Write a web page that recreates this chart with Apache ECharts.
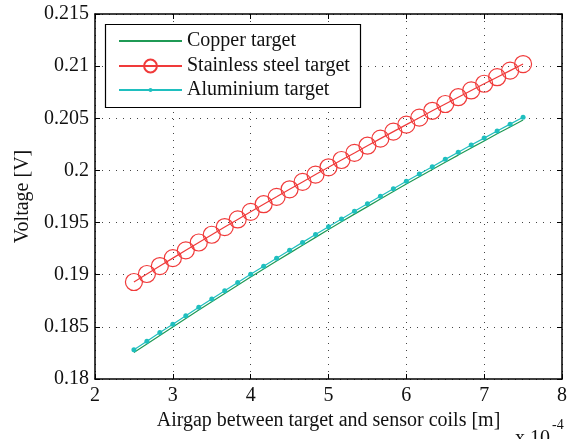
<!DOCTYPE html>
<html>
<head>
<meta charset="utf-8">
<script src="https://cdn.jsdelivr.net/npm/echarts@6/dist/echarts.min.js"></script>
<style>html,body{margin:0;padding:0;background:#fff;}#c{width:572px;height:439px;}</style>
</head>
<body>
<div id="c"></div>
<script>
// Airgap (x 10^-4 m)
const airgap = [2.5, 2.6667, 2.8333, 3.0, 3.1667, 3.3333, 3.5, 3.6667, 3.8333, 4.0, 4.1667, 4.3333, 4.5, 4.6667, 4.8333, 5.0, 5.1667, 5.3333, 5.5, 5.6667, 5.8333, 6.0, 6.1667, 6.3333, 6.5, 6.6667, 6.8333, 7.0, 7.1667, 7.3333, 7.5];
const copper = [0.18253, 0.18336, 0.18418, 0.18499, 0.18580, 0.18661, 0.18741, 0.18820, 0.18899, 0.18977, 0.19054, 0.19131, 0.19207, 0.19283, 0.19358, 0.19433, 0.19507, 0.19581, 0.19653, 0.19726, 0.19798, 0.19869, 0.19939, 0.20009, 0.20079, 0.20147, 0.20216, 0.20283, 0.20351, 0.20417, 0.20483];
const stainless = [0.18930, 0.19007, 0.19083, 0.19159, 0.19234, 0.19309, 0.19383, 0.19457, 0.19530, 0.19603, 0.19676, 0.19747, 0.19819, 0.19890, 0.19960, 0.20030, 0.20100, 0.20168, 0.20237, 0.20305, 0.20372, 0.20439, 0.20506, 0.20572, 0.20637, 0.20702, 0.20767, 0.20831, 0.20894, 0.20957, 0.21020];
const aluminium = [0.18280, 0.18363, 0.18445, 0.18526, 0.18607, 0.18688, 0.18768, 0.18847, 0.18926, 0.19004, 0.19081, 0.19158, 0.19234, 0.19310, 0.19385, 0.19460, 0.19534, 0.19608, 0.19680, 0.19753, 0.19825, 0.19896, 0.19966, 0.20036, 0.20106, 0.20174, 0.20243, 0.20310, 0.20378, 0.20444, 0.20510];
const seriesNames = ['Copper target', 'Stainless steel target', 'Aluminium target'];
const xTitle = 'Airgap between target and sensor coils [m]';
const yTitle = 'Voltage [V]';

const FONT = 'Liberation Serif';
const pairs = (ys) => airgap.map((x, i) => [x, ys[i]]);

const chart = echarts.init(document.getElementById('c'), null, {renderer: 'canvas'});

const axisLineStyle = {color: '#000', width: 1.5};
const baseX = {
  type: 'value', min: 2, max: 8, interval: 1,
  axisLine: {show: true, onZero: false, lineStyle: axisLineStyle},
  axisTick: {show: true, inside: true, length: 5, lineStyle: {color: '#000', width: 1}},
  splitLine: {show: false}
};
const baseY = {
  type: 'value', min: 0.18, max: 0.215, interval: 0.005,
  axisLine: {show: true, onZero: false, lineStyle: axisLineStyle},
  axisTick: {show: true, inside: true, length: 5, lineStyle: {color: '#000', width: 1}},
  splitLine: {show: false}
};

const legendCommon = {
  orient: 'vertical', left: 118, padding: 0, itemWidth: 63, z: 5,
  textStyle: {fontFamily: FONT, fontSize: 20, color: '#111', lineHeight: 20},
  selectedMode: false
};

chart.setOption({
  animation: false,
  backgroundColor: '#fff',
  grid: {left: 95, top: 14, right: 10, bottom: 60, containLabel: false},
  xAxis: [
    Object.assign({}, baseX, {
      position: 'bottom',
      name: xTitle, nameLocation: 'middle', nameGap: 27,
      nameTextStyle: {fontFamily: FONT, fontSize: 20, color: '#111'},
      axisLabel: {show: true, margin: 7, fontFamily: FONT, fontSize: 20, color: '#111', formatter: v => String(v)},
      splitLine: {show: true, lineStyle: {color: '#444', width: 1, type: [1, 6]}}
    }),
    Object.assign({}, baseX, {position: 'top', axisLabel: {show: false}})
  ],
  yAxis: [
    Object.assign({}, baseY, {
      position: 'left',
      name: yTitle, nameLocation: 'middle', nameGap: 57,
      nameTextStyle: {fontFamily: FONT, fontSize: 20, color: '#111'},
      axisLabel: {show: true, margin: 6, fontFamily: FONT, fontSize: 20, color: '#111',
        formatter: v => String(parseFloat(v.toFixed(3)))},
      splitLine: {show: true, lineStyle: {color: '#444', width: 1, type: [1, 6]}}
    }),
    Object.assign({}, baseY, {position: 'right', axisLabel: {show: false}})
  ],
  legend: [
    Object.assign({}, legendCommon, {top: 31, itemHeight: 10, data: [seriesNames[0]], itemStyle: {opacity: 0}}),
    Object.assign({}, legendCommon, {top: 56, itemHeight: 16, data: [seriesNames[1]]}),
    Object.assign({}, legendCommon, {top: 80, itemHeight: 5, data: [seriesNames[2]]})
  ],
  graphic: [
    {type: 'rect', z: 3, shape: {x: 105.5, y: 24.5, width: 255, height: 83},
     style: {fill: '#fff', stroke: '#000', lineWidth: 1.2}},
    {type: 'text', z: 3, left: 515, top: 429,
     style: {text: 'x 10', font: '20px "Liberation Serif"', fill: '#111'}},
    {type: 'text', z: 3, left: 552, top: 418,
     style: {text: '-4', font: '14px "Liberation Serif"', fill: '#111'}}
  ],
  series: [
    {
      name: seriesNames[0], type: 'line', data: pairs(copper),
      symbol: 'none', showSymbol: false,
      lineStyle: {color: '#1f9a55', width: 1.2}, itemStyle: {color: '#1f9a55'}, z: 2
    },
    {
      name: seriesNames[1], type: 'line', data: pairs(stainless),
      symbol: 'circle', symbolSize: 17,
      lineStyle: {color: '#f03a3a', width: 1.2},
      itemStyle: {color: 'rgba(0,0,0,0)', borderColor: '#f03a3a', borderWidth: 1.2}, z: 3
    },
    {
      name: seriesNames[2], type: 'line', data: pairs(aluminium),
      symbol: 'circle', symbolSize: 5,
      lineStyle: {color: '#1fbfbf', width: 1.2},
      itemStyle: {color: '#1fbfbf'}, z: 4
    }
  ]
});
</script>
</body>
</html>
